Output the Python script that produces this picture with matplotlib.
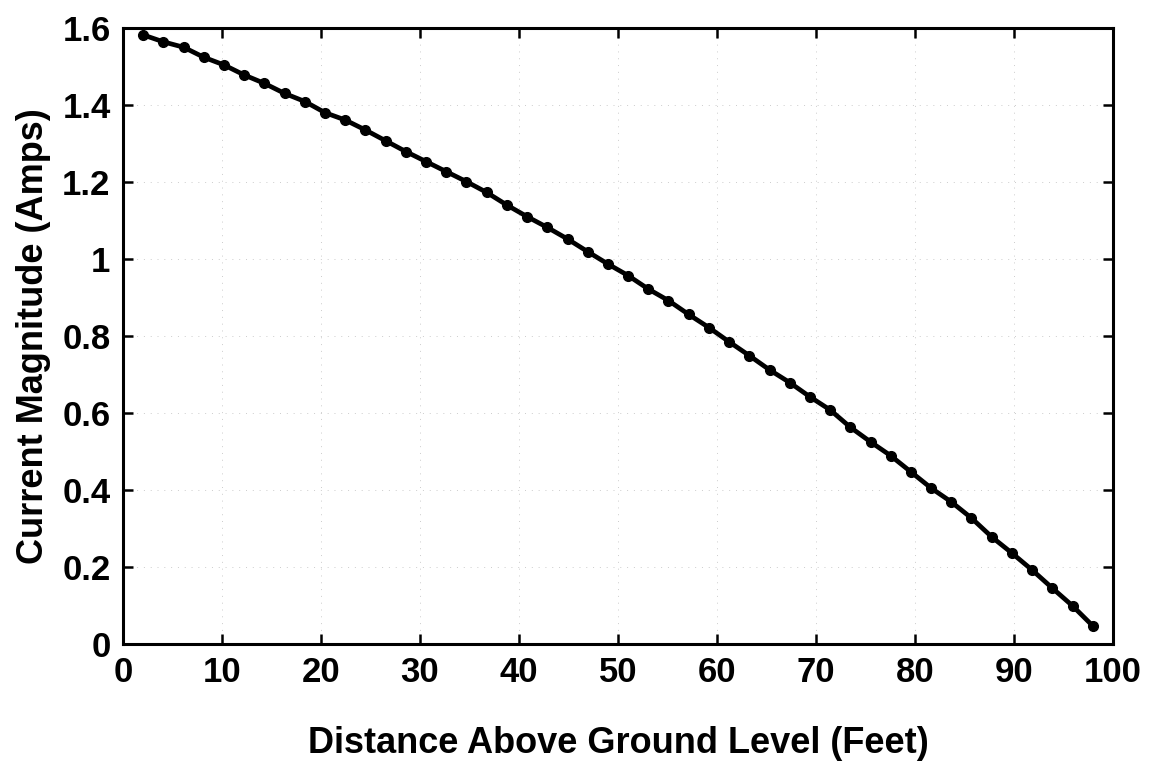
import matplotlib
matplotlib.use("Agg")
import matplotlib.pyplot as plt

distance_ft = [2.04, 4.08, 6.12, 8.16, 10.2, 12.24, 14.29, 16.33, 18.37, 20.41,
               22.45, 24.49, 26.53, 28.57, 30.61, 32.65, 34.69, 36.73, 38.78, 40.82,
               42.86, 44.9, 46.94, 48.98, 51.02, 53.06, 55.1, 57.14, 59.18, 61.22,
               63.27, 65.31, 67.35, 69.39, 71.43, 73.47, 75.51, 77.55, 79.59, 81.63,
               83.67, 85.71, 87.76, 89.8, 91.84, 93.88, 95.92, 97.96]
current_amps = [1.582, 1.564, 1.550, 1.524, 1.504, 1.478, 1.456, 1.430, 1.409, 1.380,
                1.361, 1.335, 1.307, 1.279, 1.253, 1.227, 1.201, 1.173, 1.140, 1.110,
                1.082, 1.052, 1.019, 0.987, 0.957, 0.922, 0.892, 0.856, 0.822, 0.785,
                0.749, 0.712, 0.679, 0.642, 0.608, 0.563, 0.525, 0.489, 0.447, 0.405,
                0.369, 0.327, 0.278, 0.236, 0.192, 0.145, 0.099, 0.047]
x_ticks = [0, 10, 20, 30, 40, 50, 60, 70, 80, 90, 100]
y_ticks = [0, 0.2, 0.4, 0.6, 0.8, 1.0, 1.2, 1.4, 1.6]
y_tick_labels = ["0", "0.2", "0.4", "0.6", "0.8", "1", "1.2", "1.4", "1.6"]

plt.rcParams['font.family'] = ['Liberation Sans', 'DejaVu Sans']
plt.rcParams['font.weight'] = 'bold'

fig = plt.figure(figsize=(11.52, 7.67), dpi=100)
ax = fig.add_axes([0.1068, 0.1604, 0.8593, 0.8031])

ax.plot(distance_ft, current_amps, color='black', lw=3.4, marker='o',
        markersize=7, markerfacecolor='black', markeredgecolor='black', zorder=3)

ax.set_xlim(0, 100)
ax.set_ylim(0, 1.6)
ax.set_xticks(x_ticks)
ax.set_xticklabels([str(t) for t in x_ticks])
ax.set_yticks(y_ticks)
ax.set_yticklabels(y_tick_labels)

ax.grid(True, color='#aaaaaa', linestyle=(0, (1, 6)), linewidth=0.7, alpha=0.6)

for s in ax.spines.values():
    s.set_linewidth(2.2)
ax.tick_params(direction='in', length=7, width=1.8, top=True, right=True,
               labelsize=25, pad=9)
for lbl in ax.get_xticklabels() + ax.get_yticklabels():
    lbl.set_fontweight('bold')

ax.set_xlabel("Distance Above Ground Level (Feet)", fontsize=26, fontweight='bold', labelpad=26)
ax.set_ylabel("Current Magnitude (Amps)", fontsize=26, fontweight='bold', labelpad=8)

fig.savefig("out.png", dpi=100, facecolor='white')
